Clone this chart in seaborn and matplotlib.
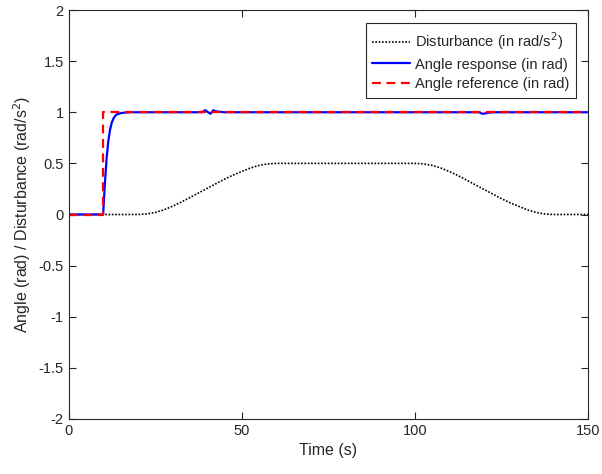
import matplotlib
matplotlib.use("Agg")
import matplotlib.pyplot as plt
import seaborn as sns

# Disturbance (rad/s^2)
dist_t = [0, 5, 10, 15, 20, 22.5, 25, 27.5, 30, 32.5, 35, 37.5, 40, 42.5, 45, 47.5, 50,
          52.5, 55, 57.5, 60, 70, 80, 90, 100, 102.5, 105, 107.5, 110, 112.5, 115, 117.5,
          120, 122.5, 125, 127.5, 130, 132.5, 135, 137.5, 140, 145, 150]
dist_v = [0, 0, 0, 0, 0, 0.005, 0.02, 0.045, 0.08, 0.12, 0.165, 0.21, 0.255, 0.30, 0.345,
          0.385, 0.42, 0.455, 0.48, 0.495, 0.5, 0.5, 0.5, 0.5, 0.5, 0.495, 0.48, 0.455, 0.42,
          0.38, 0.335, 0.29, 0.245, 0.20, 0.155, 0.115, 0.08, 0.045, 0.02, 0.005, 0, 0, 0]

# Angle response (rad)
resp_t = [0, 10, 10.5, 11, 11.5, 12, 12.5, 13, 13.5, 14, 15, 16, 18, 20, 38.5, 39.5, 40.3,
          41, 41.8, 42.5, 43.5, 45, 60, 100, 118.5, 119.5, 120.5, 121.5, 123, 150]
resp_v = [0, 0, 0.3, 0.55, 0.72, 0.83, 0.9, 0.94, 0.965, 0.98, 0.99, 0.996, 1.0, 1.0, 1.0,
          1.02, 1.0, 0.985, 1.02, 1.01, 1.005, 1.0, 1.0, 1.0, 1.0, 0.985, 0.99, 0.997, 1.0, 1.0]

# Angle reference (rad)
ref_t = [0, 10, 10, 150]
ref_v = [0, 0, 1, 1]

sns.set_style("ticks")
plt.rcParams['font.family'] = ['Liberation Sans', 'DejaVu Sans']

fig = plt.figure(figsize=(6.02, 4.74), dpi=100)
ax = fig.add_axes([68.5 / 602, 55 / 474, 519.5 / 602, 409 / 474])

sns.lineplot(x=dist_t, y=dist_v, ax=ax, color='black', linestyle=(0, (1, 1.0)),
             linewidth=1.2, label='Disturbance (in rad/s$^2$)', sort=False, estimator=None)
sns.lineplot(x=resp_t, y=resp_v, ax=ax, color='#0000ff', linewidth=1.6,
             label='Angle response (in rad)', sort=False, estimator=None)
sns.lineplot(x=ref_t, y=ref_v, ax=ax, color='#ff0000', linestyle=(0, (4, 2.5)),
             linewidth=1.6, label='Angle reference (in rad)', sort=False, estimator=None)

ax.set_xlim(0, 150)
ax.set_ylim(-2, 2)
ax.set_xticks([0, 50, 100, 150])
ax.set_yticks([-2, -1.5, -1, -0.5, 0, 0.5, 1, 1.5, 2])
ax.set_yticklabels(['-2', '-1.5', '-1', '-0.5', '0', '0.5', '1', '1.5', '2'])
ax.tick_params(axis='both', labelsize=10.5, direction='in', length=5, width=0.8,
               top=True, right=True, colors='#262626', labelcolor='#262626')
for s in ax.spines.values():
    s.set_visible(True)
    s.set_color('#262626')
    s.set_linewidth(0.8)
ax.set_xlabel('Time (s)', fontsize=11.5, color='#262626')
ax.set_ylabel('Angle (rad) / Disturbance (rad/s$^2$)', fontsize=11.5, color='#262626')

leg = ax.legend(loc='upper right', fontsize=10.5, frameon=True, fancybox=False,
                edgecolor='#262626', framealpha=1, handlelength=2.6, handletextpad=0.3,
                borderpad=0.45, labelspacing=0.4, bbox_to_anchor=(0.99, 0.985))
leg.get_frame().set_linewidth(0.8)

fig.savefig('out.png', dpi=100)
